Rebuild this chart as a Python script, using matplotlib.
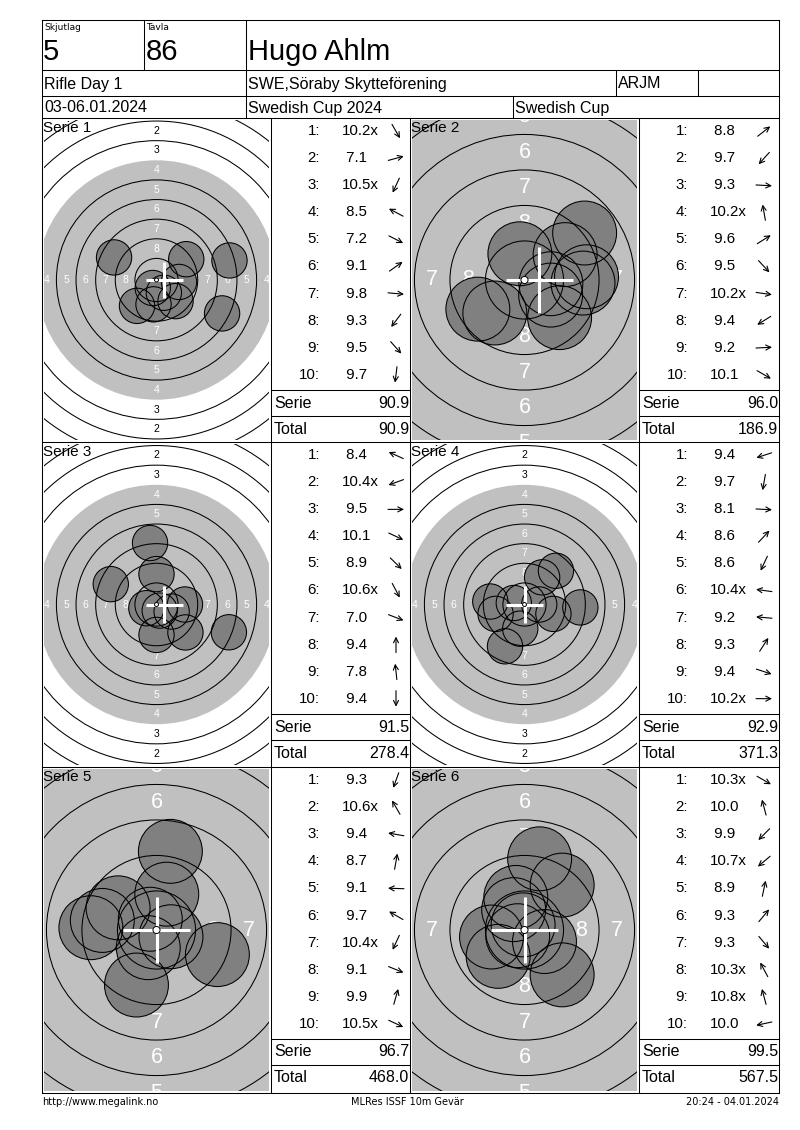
import numpy as np
import matplotlib.pyplot as plt
from matplotlib.patches import Circle

plt.rcParams['font.family'] = ['Liberation Sans', 'DejaVu Sans']

W, H = 800, 1130

# ---- header ----
skjutlag = '5'
tavla = '86'
namn = 'Hugo Ahlm'
klass = 'Rifle Day 1'
klubb = 'SWE,Söraby Skytteförening'
kod = 'ARJM'
datum = '03-06.01.2024'
tavling = 'Swedish Cup 2024'
cup = 'Swedish Cup'
fot_vanster = 'http://www.megalink.no'
fot_mitt = 'MLRes ISSF 10m Gevär'
fot_hoger = '20:24 - 04.01.2024'

# ---- skott per serie (poäng och riktning i grader, 0 = höger, 90 = upp) ----
serie1 = ['10.2x', '7.1', '10.5x', '8.5', '7.2', '9.1', '9.8', '9.3', '9.5', '9.7']
vinkel1 = [-60, 15, -115, 152, -27, 35, -5, -127, -48, -97]
serie2 = ['8.8', '9.7', '9.3', '10.2x', '9.6', '9.5', '10.2x', '9.4', '9.2', '10.1']
vinkel2 = [38, -132, -3, 100, 32, -47, -8, -148, 3, -30]
serie3 = ['8.4', '10.4x', '9.5', '10.1', '8.9', '10.6x', '7.0', '9.4', '7.8', '9.4']
vinkel3 = [156, -160, 0, -25, -44, -62, -21, 90, 96, -90]
serie4 = ['9.4', '9.7', '8.1', '8.6', '8.6', '10.4x', '9.2', '9.3', '9.4', '10.2x']
vinkel4 = [-162, -100, -3, 47, -115, 172, 175, 57, -18, 0]
serie5 = ['9.3', '10.6x', '9.4', '8.7', '9.1', '9.7', '10.4x', '9.1', '9.9', '10.5x']
vinkel5 = [-110, 120, 170, 80, 178, 150, -115, -22, 74, -25]
serie6 = ['10.3x', '10.0', '9.9', '10.7x', '8.9', '9.3', '9.3', '10.3x', '10.8x', '10.0']
vinkel6 = [-30, 105, -135, -140, 78, 50, -50, 118, 105, -168]

# korsets läge (mm från mitten)
kors_x = [1.0, 1.05, 1.0, 0.0, 0.0, 0.0]
kors_y = [0.0, 0.0, 0.0, 0.0, 0.0, 0.0]

serier = [serie1, serie2, serie3, serie4, serie5, serie6]
vinklar = [vinkel1, vinkel2, vinkel3, vinkel4, vinkel5, vinkel6]
zoomad = [False, True, False, False, True, True]

GRA = '#c0c0c0'
HAL = '#808080'

fig = plt.figure(figsize=(W / 100, H / 100), dpi=100)

rad_y = [118, 442, 767, 1093]
kol_x = [42, 410]
mal_b = 229  # bredd på måltavlan


def rita_tavla(ax, skott, vinkel, zoom, bw, bh, kx, ky):
    skala = 14.2 if zoom else 7.85  # px per mm
    hx, hy = bw / 2 / skala, bh / 2 / skala
    ax.set_xlim(-hx, hx)
    ax.set_ylim(-hy, hy)
    ax.axis('off')
    ax.add_patch(Circle((0, 0), 15.25, facecolor=GRA, edgecolor='none', zorder=1))
    fs = 15.5 if zoom else 7.5
    for n in range(2, 9):
        r = (10 - n) * 2.5 - 1.0
        c = 'white' if n >= 4 else 'black'
        for px, py in [(0, r), (0, -r), (r, 0), (-r, 0)]:
            if abs(px) > hx + 0.8 or abs(py) > hy + 0.8:
                continue
            ax.text(px, py, str(n), color=c, fontsize=fs, ha='center', va='center',
                    zorder=2, clip_on=True)
    xs, ys = [], []
    for s, v in zip(skott, vinkel):
        p = float(s.rstrip('x'))
        d = (10.9 - p) * 2.5 + 0.125
        x, y = d * np.cos(np.radians(v)), d * np.sin(np.radians(v))
        xs.append(x)
        ys.append(y)
        ax.add_patch(Circle((x, y), 2.25, facecolor=HAL, edgecolor='none', zorder=3))
    for n in range(1, 10):
        if n == 4:
            continue
        r = 0.25 + (10 - n) * 2.5
        ax.add_patch(Circle((0, 0), r, fill=False, edgecolor='black', lw=0.75, zorder=4))
    for x, y in zip(xs, ys):
        ax.add_patch(Circle((x, y), 2.25, fill=False, edgecolor='black', lw=0.75, zorder=4))
    k = 2.35
    ax.plot([kx - k, kx + k], [ky, ky], color='white', lw=2.2, zorder=5, solid_capstyle='butt')
    ax.plot([kx, kx], [ky - k, ky + k], color='white', lw=2.2, zorder=5, solid_capstyle='butt')
    ax.add_patch(Circle((0, 0), 0.25, facecolor='white', edgecolor='black', lw=0.7, zorder=6))


for i in range(6):
    r, c = divmod(i, 2)
    T, B = rad_y[r], rad_y[r + 1]
    x0 = kol_x[c]
    bw, bh = mal_b - 4, (B - T) - 4
    ax = fig.add_axes([(x0 + 2) / W, 1 - (B - 2) / H, bw / W, bh / H])
    rita_tavla(ax, serier[i], vinklar[i], zoomad[i], bw, bh, kors_x[i], kors_y[i])

# ---- sidan: linjer och text ----
pg = fig.add_axes([0, 0, 1, 1], zorder=10)
pg.set_xlim(0, W)
pg.set_ylim(H, 0)
pg.axis('off')
pg.patch.set_alpha(0)

lw = 0.75


def hl(y, a, b):
    pg.plot([a, b], [y, y], color='black', lw=lw)


def vl(x, a, b):
    pg.plot([x, x], [a, b], color='black', lw=lw)


L, R = 42, 779
hl(20, L, R)
hl(70, L, R)
hl(96, L, R)
for y in rad_y:
    hl(y, L, R)
vl(L, 20, 1093)
vl(R, 20, 1093)
vl(144, 20, 70)
vl(246, 20, 118)
vl(616, 70, 96)
vl(698, 70, 96)
vl(513, 96, 118)
for x in [271, 410, 639]:
    vl(x, 118, 1093)

liten = ['DejaVu Sans']
pg.text(44, 27, 'Skjutlag', fontsize=6.5, family=liten, ha='left', va='center')
pg.text(146, 27, 'Tavla', fontsize=6.5, family=liten, ha='left', va='center')
pg.text(43, 52, skjutlag, fontsize=21, ha='left', va='center')
pg.text(146, 52, tavla, fontsize=21, ha='left', va='center')
pg.text(248, 52, namn, fontsize=21, ha='left', va='center')
pg.text(44, 84, klass, fontsize=11.5, ha='left', va='center')
pg.text(248, 84, klubb, fontsize=11.5, ha='left', va='center')
pg.text(618, 84, kod, fontsize=11.5, ha='left', va='center')
pg.text(44, 108, datum, fontsize=11.5, ha='left', va='center')
pg.text(248, 108, tavling, fontsize=11.5, ha='left', va='center')
pg.text(515, 108, cup, fontsize=11.5, ha='left', va='center')

pg.text(42, 1102, fot_vanster, fontsize=7, family=liten, ha='left', va='center')
pg.text(407, 1102, fot_mitt, fontsize=7, family=liten, ha='center', va='center')
pg.text(779, 1102, fot_hoger, fontsize=7, family=liten, ha='right', va='center')

total = 0.0
for i in range(6):
    r, c = divmod(i, 2)
    T = rad_y[r]
    x0 = kol_x[c]
    lx = x0 + mal_b
    rx = kol_x[1] if c == 0 else R
    pg.text(x0 + 1, T + 10, 'Serie %d' % (i + 1), fontsize=11, ha='left', va='center')
    for j, (s, v) in enumerate(zip(serier[i], vinklar[i])):
        y = T + 13.3 + 27.04 * j
        pg.text(lx + 49, y, '%d:' % (j + 1), fontsize=10.8, ha='right', va='center')
        txt = s if len(s.rstrip('x')) > 3 else ' ' + s
        pg.text(lx + 71, y, txt, fontsize=10.8, ha='left', va='center')
        ax_ = lx + 125
        dx, dy = 8 * np.cos(np.radians(v)), -8 * np.sin(np.radians(v))
        pg.annotate('', xy=(ax_ + dx, y + dy), xytext=(ax_ - dx, y - dy),
                    arrowprops=dict(arrowstyle='->', lw=0.8, color='black',
                                    shrinkA=0, shrinkB=0, mutation_scale=9))
    summa = round(sum(float(s.rstrip('x')) for s in serier[i]), 1)
    total = round(total + summa, 1)
    hl(T + 272, lx, rx)
    hl(T + 298, lx, rx)
    pg.text(lx + 3, T + 285, 'Serie', fontsize=11.5, ha='left', va='center')
    pg.text(rx - 1, T + 285, '%.1f' % summa, fontsize=11.5, ha='right', va='center')
    pg.text(lx + 3, T + 311, 'Total', fontsize=11.5, ha='left', va='center')
    pg.text(rx - 1, T + 311, '%.1f' % total, fontsize=11.5, ha='right', va='center')

fig.savefig('out.png', dpi=100)
